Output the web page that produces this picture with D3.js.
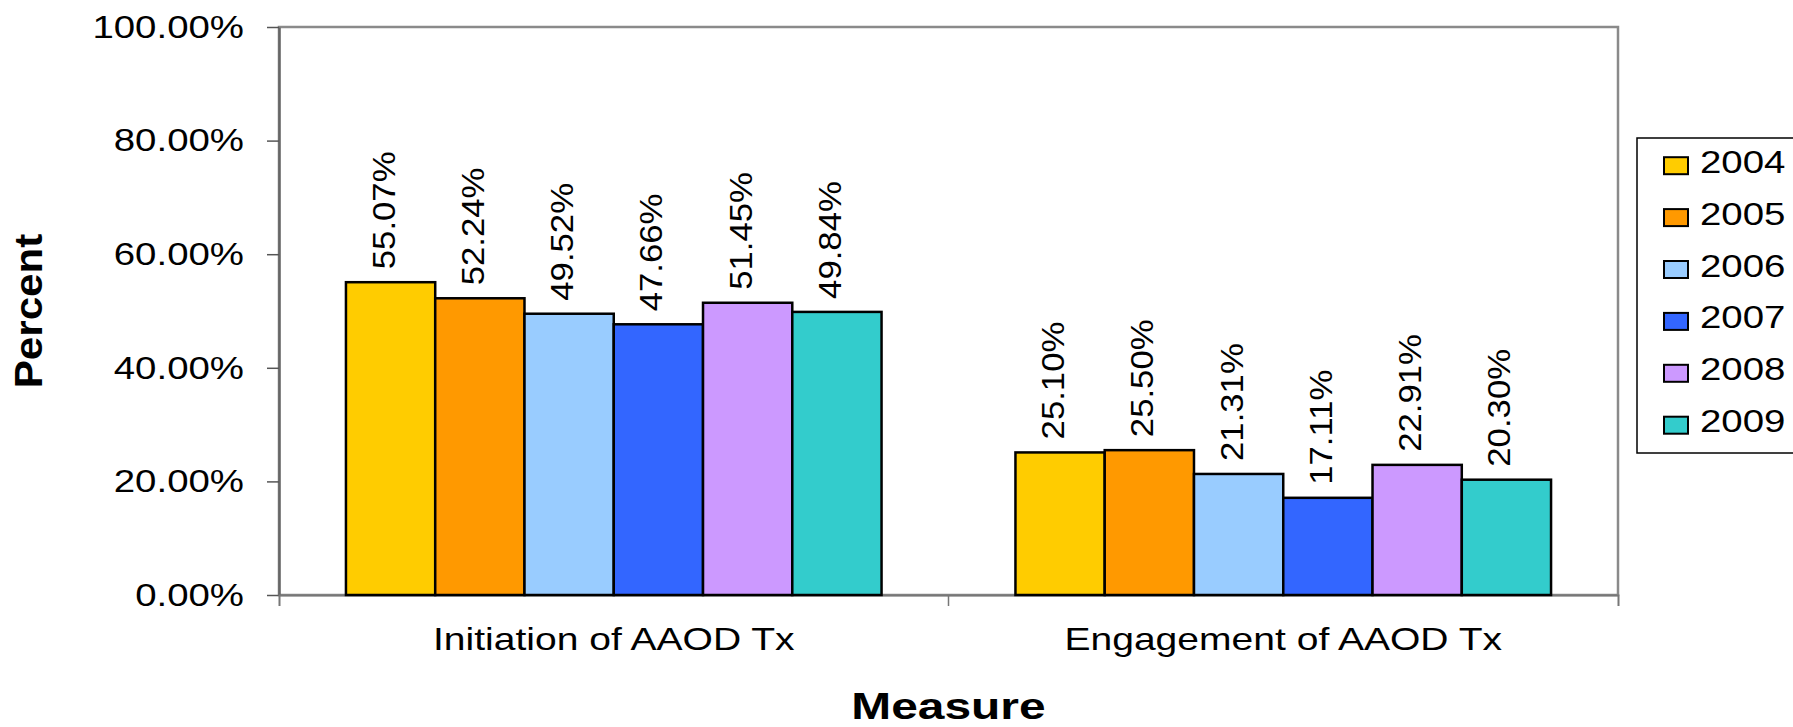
<!DOCTYPE html>
<html>
<head>
<meta charset="utf-8">
<script src="https://cdn.jsdelivr.net/npm/d3@7"></script>
<style>
    body { margin: 0; background: #fff; }
    text { font-family: "Liberation Sans", Arial, sans-serif; fill: #000; }
</style>
</head>
<body>
<div id="chart-area"></div>
<script>

// chart data
var measures = ["Initiation of AAOD Tx", "Engagement of AAOD Tx"];
var years = ["2004", "2005", "2006", "2007", "2008", "2009"];
var initiationValues = [0.5507, 0.5224, 0.4952, 0.4766, 0.5145, 0.4984];
var engagementValues = [0.2510, 0.2550, 0.2131, 0.1711, 0.2291, 0.2030];
var yTicks = [0, 0.2, 0.4, 0.6, 0.8, 1.0];
var yearColors = ["#FFCC00", "#FF9900", "#99CCFF", "#3366FF", "#CC99FF", "#33CCCC"];

// the picture is stretched sideways, so text gets stretched along its length
function stretch(selection, k) {
    selection.each(function() {
        var len = this.getComputedTextLength();
        d3.select(this)
            .attr("textLength", len * k)
            .attr("lengthAdjust", "spacingAndGlyphs");
    });
}

BarVis = function(_parentElement) {
    this.parentElement = _parentElement;
    this.initVis();
}

BarVis.prototype.initVis = function() {
    var vis = this;

    vis.margin = {top: 27, right: 175, bottom: 132, left: 279};
    vis.width = 1793 - vis.margin.left - vis.margin.right;
    vis.height = 727 - vis.margin.top - vis.margin.bottom;

    vis.root = d3.select("#" + vis.parentElement).append("svg")
        .attr("width", 1793)
        .attr("height", 727)
        .style("display", "block");

    vis.svg = vis.root.append("g")
        .attr("transform", "translate(" + vis.margin.left + "," + vis.margin.top + ")");

    vis.x0 = d3.scaleBand()
        .domain(measures)
        .range([0, vis.width]);

    vis.x1 = d3.scaleBand()
        .domain(years)
        .range([vis.x0.bandwidth() * 0.1, vis.x0.bandwidth() * 0.9]);

    vis.y = d3.scaleLinear()
        .domain([0, 1])
        .range([vis.height, 0]);

    vis.color = d3.scaleOrdinal()
        .domain(years)
        .range(yearColors);

    vis.wrangleData();
}

BarVis.prototype.wrangleData = function() {
    var vis = this;

    var series = [initiationValues, engagementValues];
    vis.displayData = measures.map(function(m, i) {
        return {
            measure: m,
            values: years.map(function(yr, j) { return {year: yr, value: series[i][j]}; })
        };
    });

    vis.updateVis();
}

BarVis.prototype.updateVis = function() {
    var vis = this;

    // plot frame
    vis.svg.append("rect")
        .attr("x", 0)
        .attr("y", 0)
        .attr("width", vis.width)
        .attr("height", vis.height)
        .attr("fill", "none")
        .attr("stroke", "#8a8a8a")
        .attr("stroke-width", 2.5);

    // y axis
    var yAxis = d3.axisLeft(vis.y)
        .tickValues(yTicks)
        .tickFormat(d3.format(".2%"))
        .tickSize(12)
        .tickSizeOuter(0)
        .tickPadding(23);

    var yg = vis.svg.append("g")
        .attr("class", "y-axis axis")
        .call(yAxis);
    yg.select(".domain").attr("stroke", "#666").attr("stroke-width", 2.5);
    yg.selectAll(".tick line").attr("stroke", "#555").attr("stroke-width", 1.5);
    yg.selectAll("text")
        .attr("font-size", 32)
        .attr("font-family", "Liberation Sans, Arial, sans-serif")
        .attr("fill", "#000")
        .call(stretch, 1.2);

    // x axis
    var xAxis = d3.axisBottom(vis.x0)
        .tickSize(0)
        .tickSizeOuter(11)
        .tickPadding(32);

    var xg = vis.svg.append("g")
        .attr("class", "x-axis axis")
        .attr("transform", "translate(0," + vis.height + ")")
        .call(xAxis);
    xg.select(".domain").attr("stroke", "#777").attr("stroke-width", 2);
    xg.selectAll("text")
        .attr("font-size", 32)
        .attr("font-family", "Liberation Sans, Arial, sans-serif")
        .attr("fill", "#000")
        .call(stretch, 1.22);

    // separators between the categories
    xg.selectAll(".sep")
        .data(measures.slice(1))
        .enter().append("line")
        .attr("class", "sep")
        .attr("x1", function(d) { return vis.x0(d); })
        .attr("x2", function(d) { return vis.x0(d); })
        .attr("y1", 0)
        .attr("y2", 11)
        .attr("stroke", "#777")
        .attr("stroke-width", 1.5);

    // bars
    var groups = vis.svg.selectAll(".measure")
        .data(vis.displayData)
        .enter().append("g")
        .attr("class", "measure")
        .attr("transform", function(d) { return "translate(" + vis.x0(d.measure) + ",0)"; });

    groups.selectAll("rect")
        .data(function(d) { return d.values; })
        .enter().append("rect")
        .attr("x", function(d) { return vis.x1(d.year); })
        .attr("y", function(d) { return vis.y(d.value); })
        .attr("width", vis.x1.bandwidth())
        .attr("height", function(d) { return vis.height - vis.y(d.value); })
        .attr("fill", function(d) { return vis.color(d.year); })
        .attr("stroke", "#000")
        .attr("stroke-width", 2.5);

    // value labels, written upwards
    groups.selectAll(".value-label")
        .data(function(d) { return d.values; })
        .enter().append("text")
        .attr("class", "value-label")
        .attr("transform", function(d) {
            var cx = vis.x1(d.year) + vis.x1.bandwidth() / 2;
            return "translate(" + cx + "," + (vis.y(d.value) - 13) + ") rotate(-90)";
        })
        .attr("dy", "0.13em")
        .attr("font-size", 31)
        .text(function(d) { return d3.format(".2%")(d.value); })
        .call(stretch, 1.12);

    // axis titles
    vis.root.append("text")
        .attr("transform", "translate(42," + (vis.margin.top + vis.height / 2) + ") rotate(-90)")
        .attr("text-anchor", "middle")
        .attr("font-size", 39)
        .attr("font-weight", "bold")
        .text("Percent")
        .call(stretch, 1.08);

    vis.root.append("text")
        .attr("x", vis.margin.left + vis.width / 2)
        .attr("y", 719)
        .attr("text-anchor", "middle")
        .attr("font-size", 36)
        .attr("font-weight", "bold")
        .text("Measure")
        .call(stretch, 1.33);

    // legend
    var legend = vis.root.append("g")
        .attr("class", "legend")
        .attr("transform", "translate(1637,138)");

    legend.append("rect")
        .attr("x", 0)
        .attr("y", 0)
        .attr("width", 200)
        .attr("height", 315)
        .attr("fill", "#fff")
        .attr("stroke", "#000")
        .attr("stroke-width", 1.5);

    var rows = legend.selectAll(".legend-row")
        .data(years)
        .enter().append("g")
        .attr("class", "legend-row")
        .attr("transform", function(d, i) { return "translate(0," + (27.7 + i * 51.9) + ")"; });

    rows.append("rect")
        .attr("x", 27)
        .attr("y", -8.5)
        .attr("width", 24)
        .attr("height", 17)
        .attr("fill", function(d) { return vis.color(d); })
        .attr("stroke", "#000")
        .attr("stroke-width", 2);

    rows.append("text")
        .attr("x", 63)
        .attr("dy", "0.22em")
        .attr("font-size", 32)
        .text(function(d) { return d; })
        .call(stretch, 1.2);
}

var barVis = new BarVis("chart-area");

</script>
</body>
</html>
